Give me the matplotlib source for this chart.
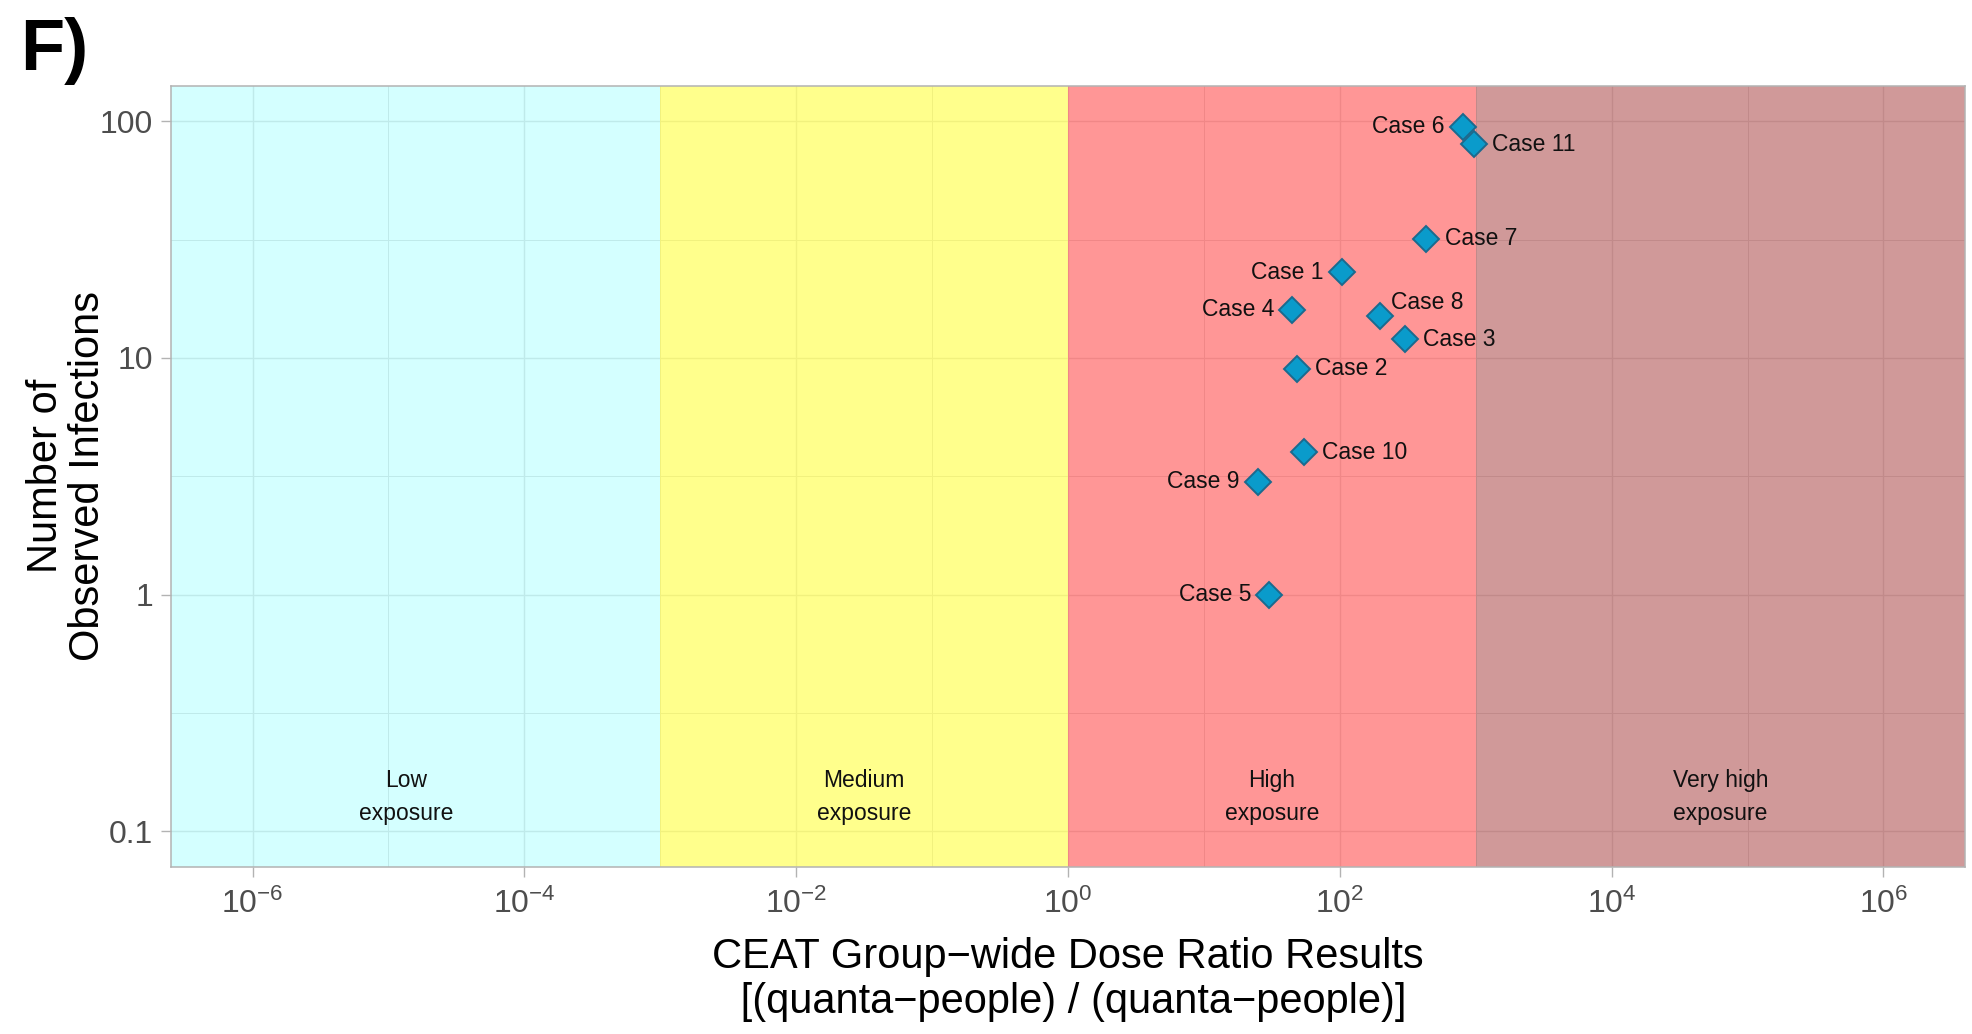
import numpy as np
import matplotlib.pyplot as plt
from matplotlib.ticker import FixedLocator, LogFormatterSciNotation, NullFormatter

plt.rcParams['font.family'] = ['Liberation Sans', 'DejaVu Sans']
plt.rcParams['mathtext.fontset'] = 'custom'
plt.rcParams['mathtext.rm'] = 'Liberation Sans'
plt.rcParams['mathtext.it'] = 'Liberation Sans:italic'
plt.rcParams['mathtext.bf'] = 'Liberation Sans:bold'

# case data
cases = ['Case 1', 'Case 2', 'Case 3', 'Case 4', 'Case 5', 'Case 6',
         'Case 7', 'Case 8', 'Case 9', 'Case 10', 'Case 11']
dose_ratio = [103, 48.7, 301, 44.5, 30.3, 804, 434, 196, 24.9, 54.5, 975]
infections = [23, 9, 12, 16, 1, 95, 32, 15, 3, 4, 80]
label_side = ['left', 'right', 'right', 'left', 'left', 'left',
              'right', 'above', 'left', 'right', 'right']

# exposure zones
zone_names = ['Low\nexposure', 'Medium\nexposure', 'High\nexposure', 'Very high\nexposure']
zone_bounds = [1e-3, 1, 1e3]
zone_colors = ['cyan', 'yellow', 'red', 'darkred']
zone_alpha = [0.17, 0.45, 0.41, 0.4]
zone_label_x = [10 ** -4.87, 10 ** -1.5, 10 ** 1.5, 10 ** 4.8]

x_ticks = [1e-6, 1e-4, 1e-2, 1e0, 1e2, 1e4, 1e6]
x_minor = [1e-5, 1e-3, 1e-1, 1e1, 1e3, 1e5]
y_ticks = [0.1, 1, 10, 100]
y_ticklabels = ['0.1', '1', '10', '100']
y_minor = [10 ** -0.5, 10 ** 0.5, 10 ** 1.5]

xlim = (10 ** -6.6, 10 ** 6.6)
ylim = (10 ** -1.15, 10 ** 2.15)

fig = plt.figure(figsize=(19.72, 10.34), dpi=100)
ax = fig.add_axes([171 / 1972, 1 - 866.5 / 1034, (1965 - 171) / 1972, (866.5 - 86) / 1034])
ax.set_xscale('log')
ax.set_yscale('log')
ax.set_xlim(*xlim)
ax.set_ylim(*ylim)

# background zones, drawn over the grid with transparency
edges = [xlim[0]] + zone_bounds + [xlim[1]]
for i, name in enumerate(zone_names):
    ax.axvspan(edges[i], edges[i + 1], color=zone_colors[i], alpha=zone_alpha[i], lw=0, zorder=1)
    ax.text(zone_label_x[i], 0.139, name, ha='center', va='center',
            fontsize=16.5, color='#111111', linespacing=1.55, zorder=4)

ax.set_axisbelow(True)
ax.xaxis.set_major_locator(FixedLocator(x_ticks))
ax.xaxis.set_minor_locator(FixedLocator(x_minor))
ax.xaxis.set_major_formatter(LogFormatterSciNotation())
ax.xaxis.set_minor_formatter(NullFormatter())
ax.yaxis.set_major_locator(FixedLocator(y_ticks))
ax.yaxis.set_minor_locator(FixedLocator(y_minor))
ax.set_yticklabels(y_ticklabels)
ax.yaxis.set_minor_formatter(NullFormatter())

ax.grid(which='major', color='#E6E6E6', lw=1.0, zorder=0)
ax.grid(which='minor', color='#E6E6E6', lw=0.7, zorder=0)
ax.tick_params(which='major', length=7, width=1, color='#B3B3B3',
               labelsize=23, labelcolor='#4D4D4D', pad=6)
ax.tick_params(axis='x', which='major', pad=9)
ax.tick_params(which='minor', length=0)
for s in ax.spines.values():
    s.set_color('#B3B3B3')
    s.set_linewidth(1.1)
    s.set_zorder(5)

ax.plot(dose_ratio, infections, linestyle='none', marker='D', markersize=13.5,
        markerfacecolor='#0A9BCB', markeredgecolor='#1B6A8E', markeredgewidth=1.4,
        zorder=3)

for name, xv, yv, side in zip(cases, dose_ratio, infections, label_side):
    if side == 'left':
        off, ha = (-13, 0), 'right'
    elif side == 'right':
        off, ha = (13, 0), 'left'
    else:
        off, ha = (8, 10), 'left'
    ax.annotate(name, (xv, yv), xytext=off, textcoords='offset points',
                ha=ha, va='center', fontsize=16.5, color='#111111', zorder=4)

ax.set_xlabel('CEAT Group\u2212wide Dose Ratio Results\n [(quanta\u2212people) / (quanta\u2212people)]',
              fontsize=30, labelpad=12, linespacing=1.18)
ax.set_ylabel('Number of\nObserved Infections', fontsize=30, labelpad=-6, linespacing=1.08)

fig.text(20 / 1972, 1 - 70 / 1034, 'F)', fontsize=52, fontweight='bold', va='baseline')

fig.savefig('out.png', dpi=100)
